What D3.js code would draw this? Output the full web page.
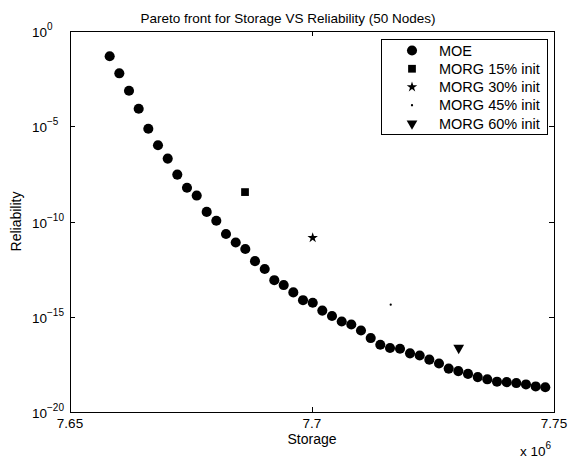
<!DOCTYPE html>
<html>
<head>
<meta charset="utf-8">
<script src="https://cdn.jsdelivr.net/npm/d3@7"></script>
<style>
  html, body { margin: 0; padding: 0; background: #fff; }
  svg { display: block; font-family: 'Liberation Sans', Arial, sans-serif; }
</style>
</head>
<body>
<div id="chart"></div>
<script>
// MOE pareto front (storage in bytes, reliability as failure prob.)
const moeStorage = [
  7658200, 7660190, 7662190, 7664190, 7666180, 7668180, 7670190, 7672170, 7674170, 7676180,
  7678240, 7680230, 7682230, 7684240, 7686220, 7688220, 7690230, 7692210, 7694150, 7696140,
  7698140, 7700150, 7702130, 7704130, 7706140, 7708120, 7710120, 7712130, 7714110, 7716120,
  7718180, 7720250, 7722250, 7724240, 7726240, 7728240, 7730230, 7732230, 7734240, 7736220,
  7738220, 7740230, 7742210, 7744210, 7746220, 7748200
];
const moeReliability = [
  4.7e-2, 6.0e-3, 7.3e-4, 8.3e-5, 7.4e-6, 1.0e-6, 2.0e-7, 2.9e-8, 5.9e-9, 2.3e-9,
  3.2e-10, 1.1e-10, 2.2e-11, 7.9e-12, 3.6e-12, 8.3e-13, 3.2e-13, 8.3e-14, 4.6e-14, 1.9e-14,
  7.4e-15, 5.4e-15, 2.1e-15, 1.1e-15, 5.6e-16, 3.9e-16, 1.9e-16, 7.6e-17, 3.4e-17, 2.3e-17,
  2.1e-17, 1.2e-17, 9.3e-18, 5.6e-18, 3.5e-18, 1.9e-18, 1.4e-18, 1.0e-18, 6.8e-19, 5.2e-19,
  3.9e-19, 3.7e-19, 3.3e-19, 2.8e-19, 2.2e-19, 2.0e-19
];

// single MORG runs
const morgLabels = ['MORG 15% init', 'MORG 30% init', 'MORG 45% init', 'MORG 60% init'];
const morgStorage = [7686160, 7700140, 7716260, 7730310];
const morgReliability = [3.5e-9, 1.4e-11, 4.3e-15, 2.3e-17];

const xTicks = [7.65e6, 7.7e6, 7.75e6];
const yTicks = [1, 1e-5, 1e-10, 1e-15, 1e-20];

const width = 570
    , height = 462
    , margin = { top: 31, right: 16, bottom: 50, left: 70 }
    , x0 = margin.left
    , x1 = width - margin.right
    , y0 = margin.top
    , y1 = height - margin.bottom
    , tickLen = 5
    ;

const x = d3.scaleLinear().domain([7.65e6, 7.75e6]).range([x0, x1])
    , y = d3.scaleLog().domain([1e-20, 1]).range([y1, y0])
    ;

const svg = d3.select('#chart')
  .append('svg')
    .attr('width', width)
    .attr('height', height);

// ticks, pointing inward on all four sides like matlab
const ticks = svg.append('g')
    .attr('stroke', '#000')
    .attr('stroke-width', 1);

xTicks.forEach(t => {
  const px = Math.round(x(t)) + 0.5;
  ticks.append('line').attr('x1', px).attr('x2', px).attr('y1', y1).attr('y2', y1 - tickLen);
  ticks.append('line').attr('x1', px).attr('x2', px).attr('y1', y0).attr('y2', y0 + tickLen);
});
yTicks.forEach(t => {
  const py = Math.round(y(t)) + 0.5;
  ticks.append('line').attr('x1', x0).attr('x2', x0 + tickLen).attr('y1', py).attr('y2', py);
  ticks.append('line').attr('x1', x1).attr('x2', x1 - tickLen).attr('y1', py).attr('y2', py);
});

svg.append('rect')
    .attr('x', x0 + 0.5)
    .attr('y', y0 + 0.5)
    .attr('width', x1 - x0)
    .attr('height', y1 - y0)
    .attr('fill', 'none')
    .attr('stroke', '#000')
    .attr('stroke-width', 1);

// x tick labels
svg.append('g')
    .attr('font-size', 13.5)
    .attr('text-anchor', 'middle')
  .selectAll('text')
  .data(xTicks)
  .join('text')
    .attr('x', d => x(d))
    .attr('y', y1 + 16)
    .text(d => d3.format('.3~f')(d / 1e6));

// y tick labels: 10 with superscript exponent
const yLab = svg.append('g')
    .attr('font-size', 13.5)
  .selectAll('text')
  .data(yTicks)
  .join('text')
    .attr('x', 32)
    .attr('y', d => y(d) + 6);
yLab.append('tspan').text('10');
yLab.append('tspan')
    .attr('font-size', 10)
    .attr('dy', -7)
    .text(d => String(Math.round(Math.log10(d))).replace('-', '\u2212'));

// x 10^6 multiplier
const mult = svg.append('text')
    .attr('font-size', 13.5)
    .attr('x', 520)
    .attr('y', 456);
mult.append('tspan').text('x 10');
mult.append('tspan').attr('font-size', 10).attr('dy', -7).text('6');

svg.append('text')
    .attr('font-size', 13.5)
    .attr('text-anchor', 'middle')
    .attr('x', 288)
    .attr('y', 23)
    .text('Pareto front for Storage VS Reliability (50 Nodes)');

svg.append('text')
    .attr('font-size', 14)
    .attr('text-anchor', 'middle')
    .attr('x', (x0 + x1) / 2)
    .attr('y', 444)
    .text('Storage');

svg.append('text')
    .attr('font-size', 14)
    .attr('text-anchor', 'middle')
    .attr('transform', `translate(21,${(y0 + y1) / 2}) rotate(-90)`)
    .text('Reliability');

// marker shapes
const shapes = [
  { type: d3.symbolCircle, size: 80, rot: 0 },
  { type: d3.symbolSquare, size: 60, rot: 0 },
  { type: d3.symbolStar, size: 34, rot: 0 },
  { type: d3.symbolCircle, size: 4, rot: 0 },
  { type: d3.symbolTriangle, size: 50, rot: 180 }
];
const sym = s => d3.symbol().type(s.type).size(s.size)();

const moe = moeStorage.map((s, i) => ({ s, r: moeReliability[i] }));

svg.append('g')
  .selectAll('path')
  .data(moe)
  .join('path')
    .attr('d', sym(shapes[0]))
    .attr('transform', d => `translate(${x(d.s)},${y(d.r)})`)
    .attr('fill', '#000');

svg.append('g')
  .selectAll('path')
  .data(morgStorage)
  .join('path')
    .attr('d', (d, i) => sym(shapes[i + 1]))
    .attr('transform', (d, i) => `translate(${x(d)},${y(morgReliability[i])}) rotate(${shapes[i + 1].rot})`)
    .attr('fill', '#000');

// legend
const legendItems = ['MOE'].concat(morgLabels)
    , lgX = 381
    , lgY = 39
    , lgW = 166
    , lgH = 95
    , rowH = 18.25
    ;

const legend = svg.append('g');
legend.append('rect')
    .attr('x', lgX + 0.5)
    .attr('y', lgY + 0.5)
    .attr('width', lgW)
    .attr('height', lgH)
    .attr('fill', '#fff')
    .attr('stroke', '#000');

const row = legend.selectAll('g')
  .data(legendItems)
  .join('g')
    .attr('transform', (d, i) => `translate(${lgX},${lgY + 11.5 + i * rowH})`);
row.append('path')
    .attr('d', (d, i) => sym(shapes[i]))
    .attr('transform', (d, i) => `translate(31,0) rotate(${shapes[i].rot})`)
    .attr('fill', '#000');
row.append('text')
    .attr('x', 58)
    .attr('y', 5)
    .attr('font-size', 14.5)
    .text(d => d);
</script>
</body>
</html>
